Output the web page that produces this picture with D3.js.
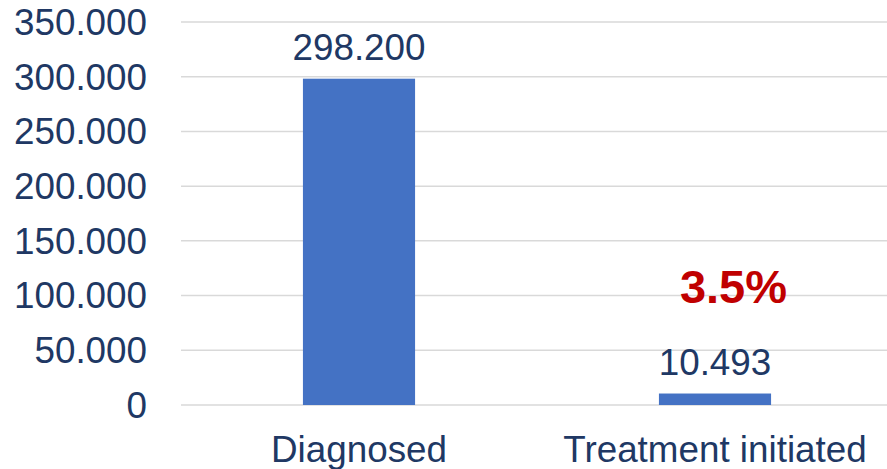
<!DOCTYPE html>
<html>
<head>
<meta charset="utf-8">
<script src="https://cdn.jsdelivr.net/npm/d3@7"></script>
<style>
  html, body { margin: 0; padding: 0; background: #fff; }
  svg { display: block; }
  text { font-family: "Liberation Sans", Arial, sans-serif; }
</style>
</head>
<body>
<svg id="chart" width="887" height="469"></svg>
<script>
const categories = ["Diagnosed", "Treatment initiated"];
const values = [298200, 10493];
const valueLabels = ["298.200", "10.493"];
const yTicks = [0, 50000, 100000, 150000, 200000, 250000, 300000, 350000];
const yTickLabels = ["0", "50.000", "100.000", "150.000", "200.000", "250.000", "300.000", "350.000"];
const annotation = "3.5%";

(function () {
const svg = d3.select("#chart");
const W = 887, H = 469;
const plotLeft = 181, plotRight = 893, plotTop = 22, plotBottom = 405;
const fs = 36.8;

const x = d3.scaleBand().domain(categories).range([plotLeft, plotRight])
  .paddingInner(0.685).paddingOuter(0.3425);
const y = d3.scaleLinear().domain([0, 350000]).range([plotBottom, plotTop]);

const textColor = "#203864";

// gridlines
svg.append("g").selectAll("line").data(yTicks).join("line")
  .attr("x1", plotLeft).attr("x2", W)
  .attr("y1", d => y(d)).attr("y2", d => y(d))
  .attr("stroke", "#D9D9D9").attr("stroke-width", 1.5);

// y axis labels
svg.append("g").selectAll("text").data(yTicks).join("text")
  .attr("x", 147).attr("y", d => y(d))
  .attr("dy", "0.35em")
  .attr("text-anchor", "end")
  .attr("font-size", fs).attr("fill", textColor)
  .text((d, i) => yTickLabels[i]);

// bars
svg.append("g").selectAll("rect").data(values).join("rect")
  .attr("x", (d, i) => x(categories[i]))
  .attr("width", x.bandwidth())
  .attr("y", d => y(d))
  .attr("height", d => plotBottom - y(d))
  .attr("fill", "#4472C4");

// value labels
svg.append("g").selectAll("text").data(values).join("text")
  .attr("x", (d, i) => x(categories[i]) + x.bandwidth() / 2)
  .attr("y", d => y(d) - 19)
  .attr("text-anchor", "middle")
  .attr("font-size", fs).attr("fill", textColor)
  .text((d, i) => valueLabels[i]);

// category labels
svg.append("g").selectAll("text").data(categories).join("text")
  .attr("x", d => x(d) + x.bandwidth() / 2)
  .attr("y", 461.5)
  .attr("text-anchor", "middle")
  .attr("font-size", fs).attr("fill", textColor)
  .text(d => d);

// annotation
svg.append("text")
  .attr("x", x(categories[1]) + x.bandwidth() / 2 + 18.5)
  .attr("y", 302.5)
  .attr("text-anchor", "middle")
  .attr("font-size", 47).attr("font-weight", "bold")
  .attr("fill", "#C00000")
  .text(annotation);
})();
</script>
</body>
</html>
